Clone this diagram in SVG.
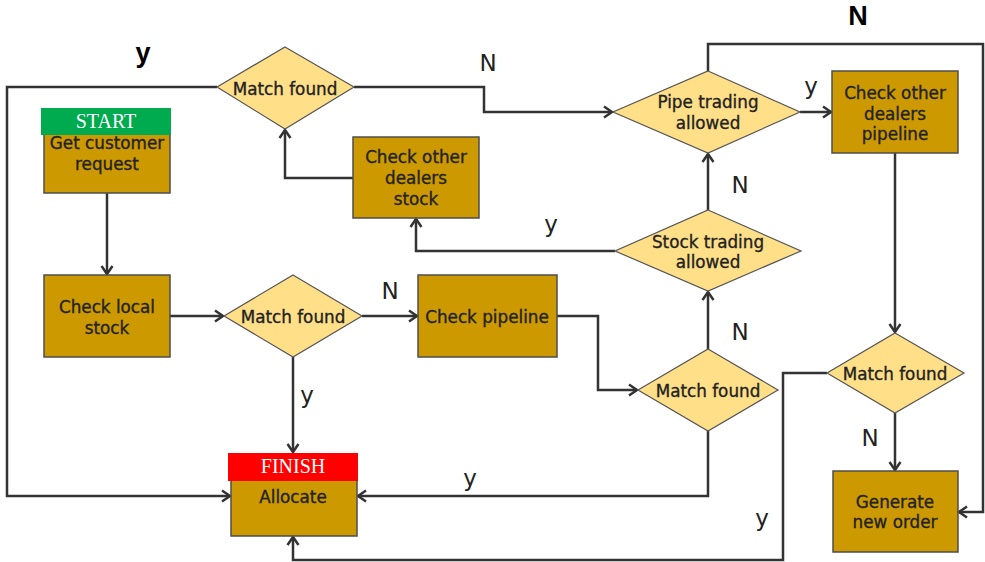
<svg xmlns="http://www.w3.org/2000/svg" width="985" height="562" viewBox="0 0 985 562">
<defs>
<marker id="arr" markerUnits="userSpaceOnUse" markerWidth="14" markerHeight="14" refX="10" refY="7" orient="auto">
<path d="M2,1.5 L10,7 L2,12.5" fill="none" stroke="#333" stroke-width="2.5" stroke-linejoin="miter"/>
</marker>
</defs>
<style>
.box{fill:#CC9900;stroke:#4d4d4d;stroke-width:1.5}
.dia{fill:#FFDF88;stroke:#555;stroke-width:1.2}
.t{font-family:"DejaVu Sans",Verdana,sans-serif;font-size:16.8px;fill:#222;stroke:#222;stroke-width:0.35;text-anchor:middle}
.lbl{font-family:"DejaVu Sans",Verdana,sans-serif;font-size:23px;fill:#222;text-anchor:middle}
.blbl{font-family:"Liberation Sans",Arial,sans-serif;font-size:27px;font-weight:bold;fill:#000;text-anchor:middle}
.tag{font-family:"Liberation Serif","Times New Roman",serif;font-size:20px;fill:#fff;text-anchor:middle}
.c{fill:none;stroke:#333;stroke-width:2.5;marker-end:url(#arr)}
</style>
<rect width="985" height="562" fill="#fff"/>

<g id="connectors">
<path class="c" d="M107,193 V274"/>
<path class="c" d="M170,316 H223"/>
<path class="c" d="M362,316 H417"/>
<path class="c" d="M293,357 V452"/>
<path class="c" d="M557,316 H598 V390 H637"/>
<path class="c" d="M708,349 V292"/>
<path class="c" d="M708,431 V496 H358"/>
<path class="c" d="M708,210 V154"/>
<path class="c" d="M615,251 H416 V219"/>
<path class="c" d="M353,178 H285 V130"/>
<path class="c" d="M354,87 H484 V112 H612"/>
<path class="c" d="M217,87 H7 V496 H230"/>
<path class="c" d="M800,112 H831"/>
<path class="c" d="M708,71 V44 H983 V512 H959"/>
<path class="c" d="M895,153 V332"/>
<path class="c" d="M895,413 V470"/>
<path class="c" d="M827,373 H783 V560 H293 V537"/>
</g>

<g id="labels">
<text class="blbl" x="143" y="62">y</text>
<text class="blbl" x="858" y="25">N</text>
<text class="lbl" x="488" y="71">N</text>
<text class="lbl" x="811" y="94">y</text>
<text class="lbl" x="740" y="193">N</text>
<text class="lbl" x="551" y="232">y</text>
<text class="lbl" x="740" y="340">N</text>
<text class="lbl" x="470" y="486">y</text>
<text class="lbl" x="762" y="526">y</text>
<text class="lbl" x="390" y="299">N</text>
<text class="lbl" x="307" y="403">y</text>
<text class="lbl" x="870" y="446">N</text>
</g>

<g id="get-request">
<rect class="box" x="44" y="110" width="126" height="83"/>
<rect x="41" y="108" width="130" height="27" fill="#00AA4F"/>
<text class="tag" x="106" y="128">START</text>
<text class="t" x="107" y="149">Get customer</text>
<text class="t" x="107" y="170">request</text>
</g>

<g id="match-top">
<polygon class="dia" points="285,47 354,87 285,129 217,87"/>
<text class="t" x="285" y="95">Match found</text>
</g>

<g id="check-dealers-stock">
<rect class="box" x="353" y="137" width="126" height="81"/>
<text class="t" x="416" y="163">Check other</text>
<text class="t" x="416" y="184">dealers</text>
<text class="t" x="416" y="205">stock</text>
</g>

<g id="pipe-trading">
<polygon class="dia" points="708,71 800,112 708,153 613,112"/>
<text class="t" x="708" y="108">Pipe trading</text>
<text class="t" x="708" y="129">allowed</text>
</g>

<g id="check-dealers-pipeline">
<rect class="box" x="832" y="71" width="126" height="82"/>
<text class="t" x="895" y="99">Check other</text>
<text class="t" x="895" y="120">dealers</text>
<text class="t" x="895" y="140">pipeline</text>
</g>

<g id="check-local">
<rect class="box" x="44" y="275" width="126" height="82"/>
<text class="t" x="107" y="313">Check local</text>
<text class="t" x="107" y="334">stock</text>
</g>

<g id="match-mid">
<polygon class="dia" points="293,275 362,316 293,357 224,316"/>
<text class="t" x="293" y="323">Match found</text>
</g>

<g id="check-pipeline">
<rect class="box" x="418" y="275" width="139" height="82"/>
<text class="t" x="487" y="323">Check pipeline</text>
</g>

<g id="stock-trading">
<polygon class="dia" points="708,210 801,251 708,291 615,251"/>
<text class="t" x="708" y="248">Stock trading</text>
<text class="t" x="708" y="268">allowed</text>
</g>

<g id="match-lower">
<polygon class="dia" points="708,349 778,390 708,431 638,390"/>
<text class="t" x="708" y="397">Match found</text>
</g>

<g id="allocate">
<rect class="box" x="231" y="479" width="126" height="57"/>
<rect x="228" y="453" width="130" height="28" fill="#FF0000"/>
<text class="tag" x="293" y="473">FINISH</text>
<text class="t" x="293" y="503">Allocate</text>
</g>

<g id="match-right">
<polygon class="dia" points="895,333 964,373 895,413 827,373"/>
<text class="t" x="895" y="380">Match found</text>
</g>

<g id="generate-order">
<rect class="box" x="833" y="471" width="125" height="81"/>
<text class="t" x="895" y="508">Generate</text>
<text class="t" x="895" y="528">new order</text>
</g>
</svg>
